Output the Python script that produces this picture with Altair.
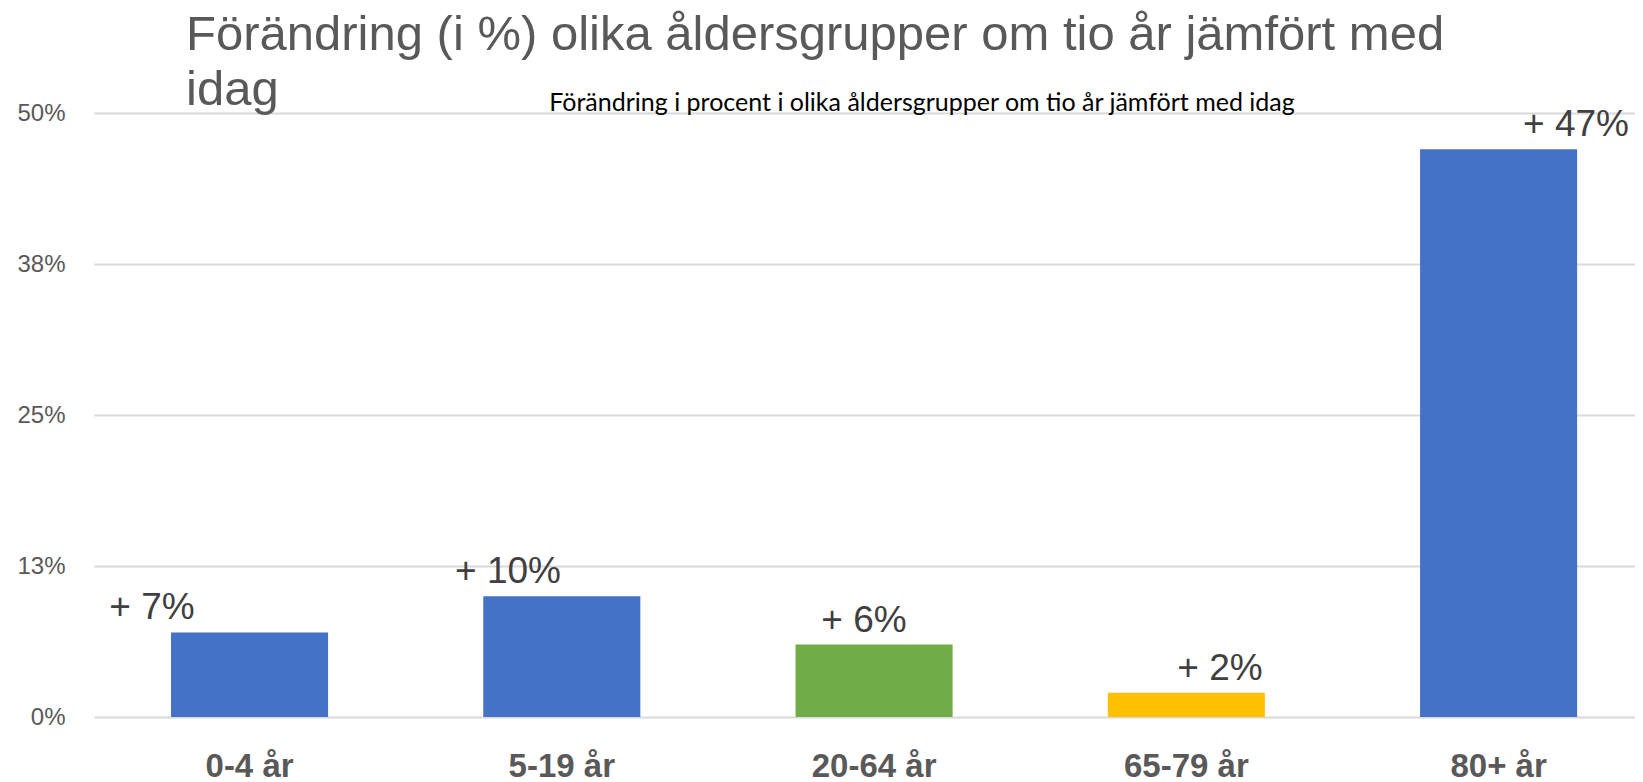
import altair as alt
import pandas as pd

categories = ["0-4 år", "5-19 år", "20-64 år", "65-79 år", "80+ år"]
changes = [7, 10, 6, 2, 47]
bar_colors = ["#4472C4", "#4472C4", "#70AD47", "#FFC000", "#4472C4"]
y_ticks = [0, 12.5, 25, 37.5, 50]

title_lines = ["Förändring (i %) olika åldersgrupper om tio år jämfört med", "idag"]
subtitle = "Förändring i procent i olika åldersgrupper om tio år jämfört med idag"

df = pd.DataFrame({"grupp": categories, "forandring": changes})

base = alt.Chart(df)

bars = base.mark_bar().encode(
    x=alt.X(
        "grupp:N",
        sort=categories,
        scale=alt.Scale(type="band", paddingInner=0.497, paddingOuter=0.216, align=0.571),
        axis=alt.Axis(
            title=None, labelAngle=0, domain=False, ticks=False, grid=False,
            labelFont="Liberation Sans", labelFontSize=33, labelFontWeight="bold",
            labelColor="#595959", labelBaseline="alphabetic", labelPadding=59,
        ),
    ),
    y=alt.Y(
        "forandring:Q",
        scale=alt.Scale(domain=[0, 50], nice=False),
        axis=alt.Axis(
            title=None, values=y_ticks, labelExpr="round(datum.value) + '%'",
            domain=False, ticks=False, grid=True, gridColor="#D9D9D9", gridWidth=2,
            labelFont="Liberation Sans", labelFontSize=24, labelColor="#595959",
            labelPadding=29,
        ),
    ),
    color=alt.Color("grupp:N", scale=alt.Scale(domain=categories, range=bar_colors), legend=None),
)

labels = base.transform_calculate(
    etikett="'+ ' + datum.forandring + '%'"
).mark_text(
    font="Liberation Sans", fontSize=37, color="#404040", baseline="alphabetic", dy=-13
).encode(
    x=alt.X(
        "grupp:N",
        sort=categories,
        scale=alt.Scale(type="point", padding=0.1643, align=0.496),
        axis=alt.Axis(
            orient="top", labels=False, ticks=False, domain=False, grid=False,
            title=subtitle, titleFont="Lato", titleFontSize=25, titleFontWeight="normal",
            titleColor="#000000", titleX=827.5, titleY=-3, titleBaseline="alphabetic",
            titleAlign="center", titleAngle=0,
        ),
    ),
    y=alt.Y("forandring:Q"),
    text="etikett:N",
)

chart = alt.layer(bars, labels).resolve_scale(x="independent").properties(
    width=1541,
    height=604,
    autosize=alt.AutoSizeParams(type="none"),
    padding={"left": 86, "top": 105, "right": 0, "bottom": 66},
    title=alt.TitleParams(
        text=title_lines, anchor="start", frame="group", font="Liberation Sans",
        fontSize=49, fontWeight="normal", color="#595959", lineHeight=55, dx=92, dy=29,
    ),
).configure_view(stroke=None)

chart.save("out.html", embed_options={"renderer": "svg", "actions": False})
